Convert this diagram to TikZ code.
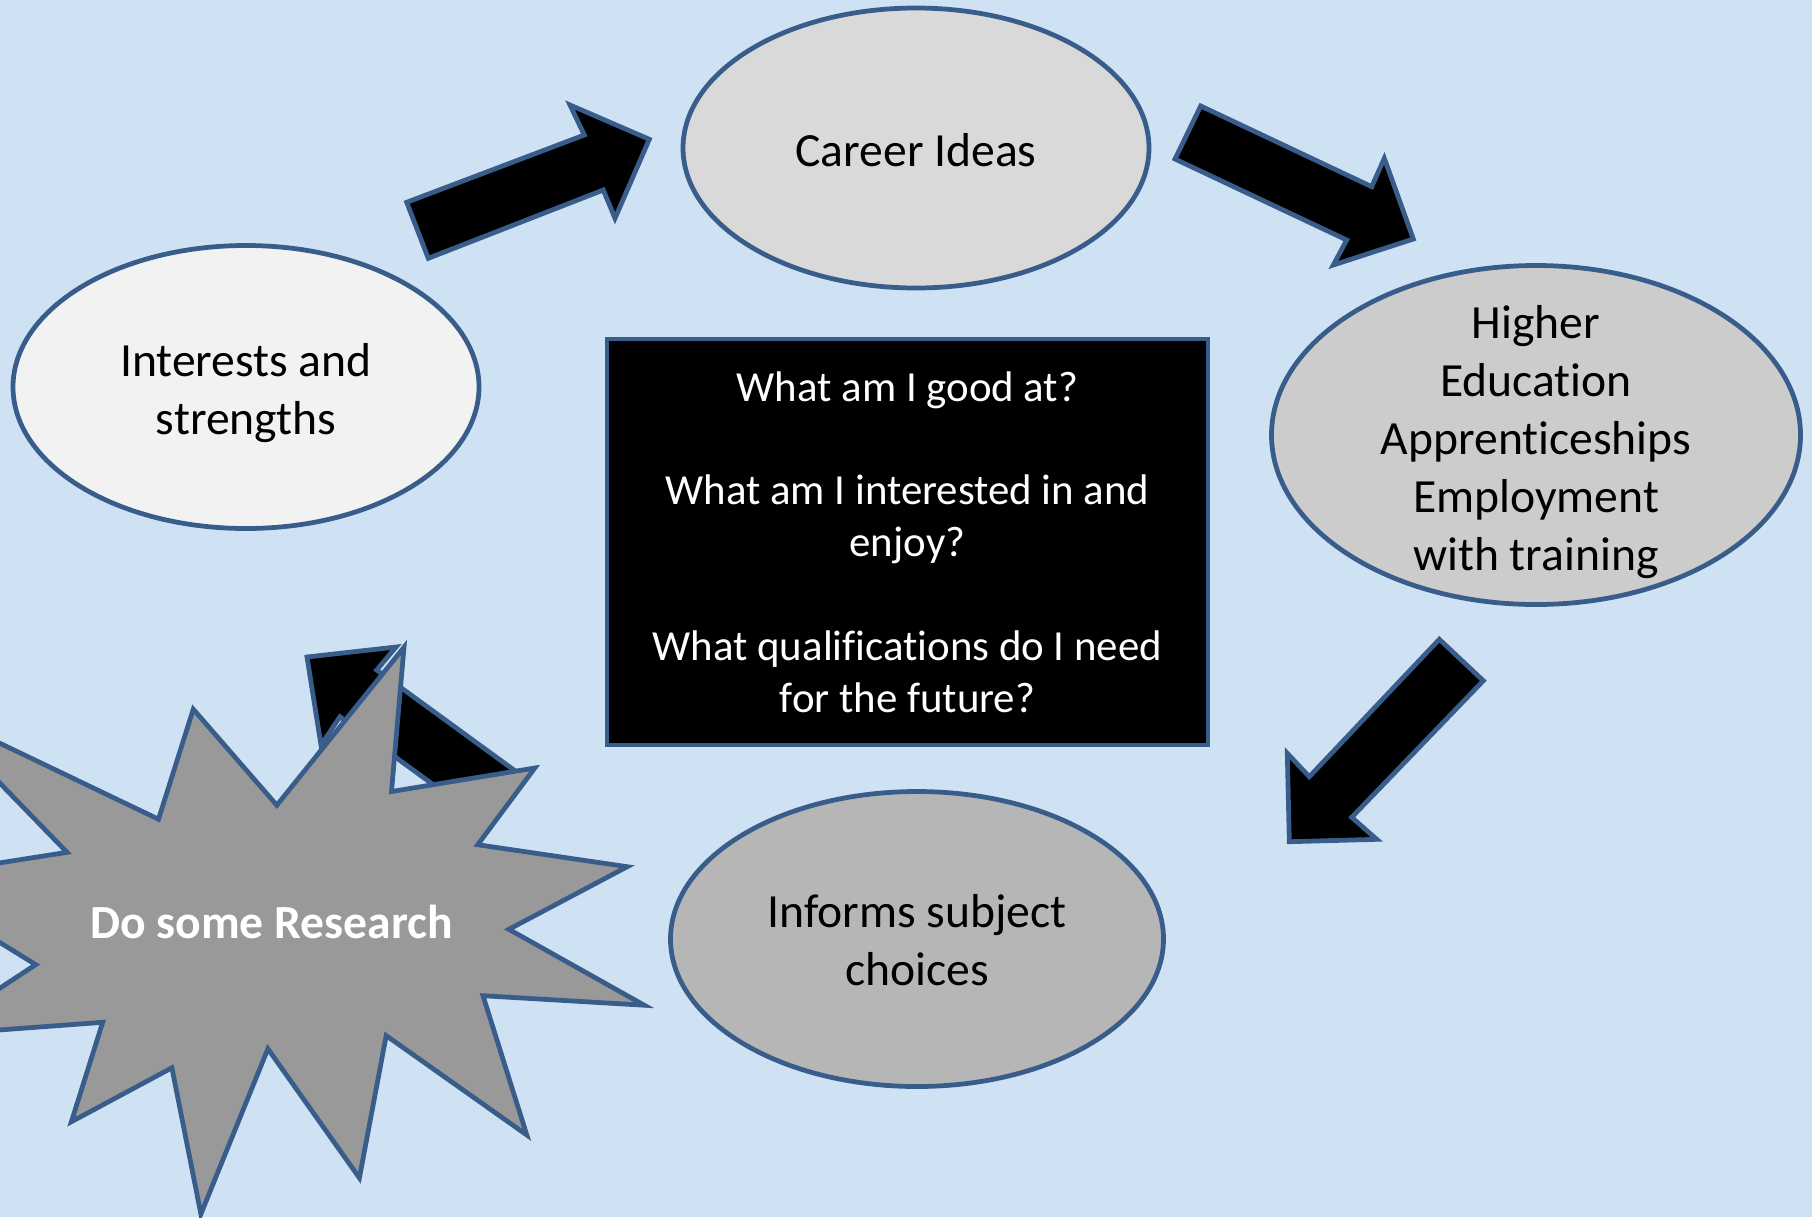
\documentclass[tikz,border=0pt]{standalone}
\usepackage{fontspec}
\setmainfont{Carlito}[Ligatures=NoCommon]
\usetikzlibrary{shapes.geometric}
\definecolor{bgblue}{RGB}{207,226,243}
\definecolor{edgeblue}{RGB}{56,93,138}
\definecolor{careerfill}{RGB}{217,217,217}
\definecolor{interestfill}{RGB}{242,242,242}
\definecolor{higherfill}{RGB}{204,204,204}
\definecolor{informfill}{RGB}{182,182,182}
\definecolor{starfill}{RGB}{153,153,153}
\newcommand{\pxunit}{0.42pt}

\begin{document}
\begin{tikzpicture}[x=0.42pt, y=-0.42pt,
    bubble/.style={ellipse, draw=edgeblue, line width=2pt, inner sep=0pt},
    bubbletext/.style={align=center, text=black, font=\fontsize{20}{24.3}\selectfont},
    blockarrow/.style={fill=black, draw=edgeblue, line width=2pt, line join=miter}]

    \useasboundingbox (0,0) rectangle (1812,1217);
    \fill[bgblue] (0,0) rectangle (1812,1217);
    \clip (0,0) rectangle (1812,1217);

    \node[bubble, fill=careerfill, minimum width=466*\pxunit, minimum height=280*\pxunit] (career) at (916,148) {};
    \node[bubbletext, yshift=-1pt] (careertext) at (career) {Career Ideas};

    \node[bubble, fill=interestfill, minimum width=466*\pxunit, minimum height=283*\pxunit] (interests) at (246,387) {};
    \node[bubbletext, yshift=-2.5pt] (intereststext) at (interests) {Interests and\\strengths};

    \node[bubble, fill=higherfill, minimum width=529*\pxunit, minimum height=339*\pxunit] (higher) at (1536,435) {};
    \node[bubbletext, yshift=-3pt] (highertext) at (higher) {Higher\\Education\\Apprenticeships\\Employment\\with training};

    \node[bubble, fill=informfill, minimum width=493*\pxunit, minimum height=295*\pxunit] (informs) at (917,939) {};
    \node[bubbletext, yshift=-0.5pt] (informstext) at (informs) {Informs subject\\choices};

    \node[draw=edgeblue, line width=2pt, fill=black, inner sep=0pt, minimum width=601*\pxunit, minimum height=406*\pxunit,
      text=white, align=center, font=\fontsize{18}{21.8}\selectfont] (questions) at (907.5,542)
      {What am I good at?\\[21.8pt]What am I interested in and\\enjoy?\\[21.8pt]What qualifications do I need\\for the future?};

    \draw[blockarrow] (428.3,258.3) -- (406.7,202.3) -- (584.3,135) -- (570,105) -- (649.3,139.3) -- (615,218.3) -- (603.3,190) -- cycle;
    \draw[blockarrow] (1200.7,106) -- (1371.7,186.7) -- (1384.3,158.3) -- (1413.3,239) -- (1333.3,265) -- (1346.7,240) -- (1175,159) -- cycle;
    \draw[blockarrow] (1439.3,639.3) -- (1483.3,680.7) -- (1351.7,817.3) -- (1376.7,839.3) -- (1289.3,841.7) -- (1287.3,753.3) -- (1309.3,776.7) -- cycle;
    \draw[blockarrow] (307,657) -- (396,647) -- (376.7,670) -- (515.7,771.3) -- (479,818) -- (340,716.7) -- (321,745) -- cycle;

    \draw[fill=starfill, draw=edgeblue, line width=2pt, line join=miter]
      (-72.3,708.7) -- (158.5,819.2) -- (193.3,709.2) -- (276.8,805.2) -- (404,647.3) -- (391.5,791.5)
      -- (534.8,768) -- (477.7,844.7) -- (627.2,866.7) -- (508.9,929.3) -- (644.2,1005.2) -- (483,995.7)
      -- (526.8,1135) -- (386.2,1035.6) -- (359.4,1177.9) -- (267.9,1048.8) -- (200.9,1214) -- (171.9,1067.8)
      -- (71.4,1121.7) -- (102.7,1022.3) -- (-71.6,1035.2) -- (35.7,964.6) -- (-103,879) -- (67,852.3) -- cycle;
    \node[text=white, font=\bfseries\fontsize{20}{24.3}\selectfont] (research) at (271.6,922) {Do some Research};

\end{tikzpicture}
\end{document}
